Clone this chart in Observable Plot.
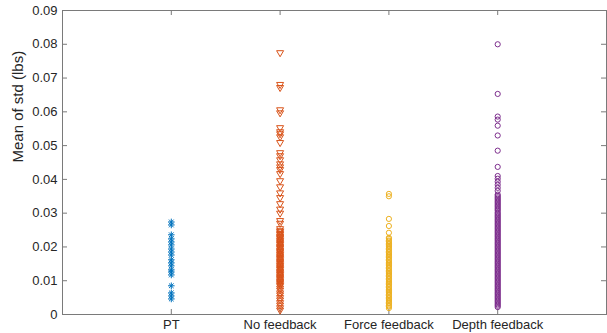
<!DOCTYPE html>
<html>
<head>
<meta charset="utf-8">
<script src="https://cdn.jsdelivr.net/npm/d3@7"></script>
<script src="https://cdn.jsdelivr.net/npm/@observablehq/plot@0.6"></script>
<style>
  body { margin: 0; background: #fff; }
  #chart svg { font-family: "Liberation Sans", Arial, Helvetica, sans-serif; }
  #chart svg g[aria-label="y-axis label"] text { font-size: 15px; }
</style>
</head>
<body>
<div id="chart"></div>
<script>
const categories = ["PT", "No feedback", "Force feedback", "Depth feedback"];
const yTicks = [0, 0.01, 0.02, 0.03, 0.04, 0.05, 0.06, 0.07, 0.08, 0.09];

const ptValues = [0.0274, 0.0265, 0.0236, 0.0224, 0.0215, 0.0206, 0.0194, 0.0185, 0.0176,
  0.0162, 0.0153, 0.0144, 0.0132, 0.0126, 0.0117, 0.0085, 0.0064, 0.0055, 0.0046];

const noFeedbackValues = [0.0775, 0.0681, 0.0672, 0.0606, 0.0597, 0.0553, 0.0541, 0.0535, 0.0526,
  0.0509, 0.0479, 0.0470, 0.0458, 0.0446, 0.0437, 0.0429, 0.0417, 0.0396, 0.0378, 0.0360,
  0.0346, 0.0328, 0.0312, 0.0300, 0.0278, 0.0270, 0.0254,
  0.0248, 0.0245, 0.0240, 0.0237, 0.0232, 0.0229, 0.0226, 0.0221, 0.0218, 0.0214, 0.0210,
  0.0207, 0.0202, 0.0199, 0.0196, 0.0191, 0.0188, 0.0185, 0.0180, 0.0177, 0.0173, 0.0169,
  0.0166, 0.0162, 0.0158, 0.0155, 0.0151, 0.0147, 0.0144, 0.0140, 0.0136, 0.0133, 0.0128,
  0.0125, 0.0121, 0.0118, 0.0114, 0.0110, 0.0107, 0.0103, 0.0099, 0.0096, 0.0092, 0.0088,
  0.0085, 0.0078, 0.0072, 0.0064, 0.0058, 0.0050, 0.0043, 0.0035, 0.0028, 0.0020, 0.0013];

const forceFeedbackValues = [0.0357, 0.0350, 0.0283, 0.0262, 0.0242,
  0.0227, 0.0224, 0.0219, 0.0216, 0.0211, 0.0208, 0.0203, 0.0200, 0.0195, 0.0192, 0.0187,
  0.0184, 0.0179, 0.0176, 0.0171, 0.0168, 0.0163, 0.0160, 0.0155, 0.0152, 0.0147, 0.0144,
  0.0139, 0.0136, 0.0131, 0.0128, 0.0123, 0.0120, 0.0115, 0.0112, 0.0107, 0.0104, 0.0099,
  0.0096, 0.0091, 0.0088, 0.0083, 0.0080, 0.0075, 0.0072, 0.0067, 0.0064, 0.0059, 0.0056,
  0.0051, 0.0048, 0.0043, 0.0040, 0.0035, 0.0032, 0.0027, 0.0024, 0.0019];

const depthFeedbackValues = [0.0800, 0.0653, 0.0586, 0.0577, 0.0559, 0.0530, 0.0485, 0.0437,
  0.0410, 0.0402, 0.0393, 0.0384, 0.0375, 0.0366,
  0.0355, 0.0351, 0.0347, 0.0343, 0.0339, 0.0335, 0.0331, 0.0327, 0.0323, 0.0319, 0.0315,
  0.0311, 0.0307, 0.0302, 0.0298, 0.0294, 0.0290, 0.0286, 0.0282, 0.0278, 0.0274, 0.0270,
  0.0266, 0.0262, 0.0258, 0.0254, 0.0250, 0.0246, 0.0242, 0.0238, 0.0234, 0.0230, 0.0226,
  0.0222, 0.0218, 0.0214, 0.0210, 0.0206, 0.0202, 0.0198, 0.0194, 0.0190, 0.0186, 0.0182,
  0.0178, 0.0174, 0.0170, 0.0166, 0.0162, 0.0158, 0.0154, 0.0150, 0.0146, 0.0142, 0.0138,
  0.0134, 0.0130, 0.0126, 0.0122, 0.0118, 0.0114, 0.0110, 0.0106, 0.0102, 0.0098, 0.0094,
  0.0090, 0.0086, 0.0082, 0.0078, 0.0074, 0.0070, 0.0066, 0.0062, 0.0058, 0.0054, 0.0050,
  0.0046, 0.0042, 0.0038, 0.0034, 0.0030, 0.0026, 0.0022];

const colors = ["#0072BD", "#D95319", "#EDB120", "#7E2F8E"];

const asterisk = {
  draw(ctx, size) {
    const r = Math.sqrt(size / Math.PI);
    const d = r * Math.SQRT1_2;
    ctx.moveTo(-r, 0); ctx.lineTo(r, 0);
    ctx.moveTo(0, -r); ctx.lineTo(0, r);
    ctx.moveTo(-d, -d); ctx.lineTo(d, d);
    ctx.moveTo(-d, d); ctx.lineTo(d, -d);
  }
};

const toRows = (vals, i) => vals.map(v => ({x: i + 1, y: v}));
const ptRows = toRows(ptValues, 0);
const nfRows = toRows(noFeedbackValues, 1);
const ffRows = toRows(forceFeedbackValues, 2);
const dfRows = toRows(depthFeedbackValues, 3);

const W = 607, H = 333, mt = 10, mb = 19, ml = 62, mr = 1;
const innerH = H - mt - mb, innerW = W - ml - mr;
const tickLen = 5;
const axisColor = "#7a7a7a";
const textColor = "#262626";
const xTicks = [1, 2, 3, 4];

const chart = Plot.plot({
  width: W, height: H,
  marginTop: mt, marginBottom: mb, marginLeft: ml, marginRight: mr,
  style: {fontSize: "13px", color: textColor, background: "#fff"},
  x: {domain: [0, 5]},
  y: {domain: [0, 0.09]},
  marks: [
    Plot.frame({stroke: axisColor}),
    // inward ticks
    Plot.ruleX(xTicks, {stroke: axisColor, insetTop: innerH - tickLen}),
    Plot.ruleX(xTicks, {stroke: axisColor, insetBottom: innerH - tickLen}),
    Plot.ruleY(yTicks, {stroke: axisColor, insetRight: innerW - tickLen}),
    Plot.ruleY(yTicks, {stroke: axisColor, insetLeft: innerW - tickLen}),
    Plot.axisX({ticks: xTicks, tickSize: 0, tickPadding: 5, tickFormat: d => categories[d - 1], label: null, fill: textColor}),
    Plot.axisY({ticks: yTicks, tickSize: 0, tickPadding: 5, tickFormat: d => d === 0 ? "0" : d.toFixed(2),
      label: null, fill: textColor}),
    Plot.text(["Mean of std (lbs)"], {frameAnchor: "left", dx: -44, rotate: -90, fontSize: 15, fill: textColor, ariaLabel: "y-axis label"}),
    Plot.dot(ptRows, {x: "x", y: "y", symbol: asterisk, r: 3.3, stroke: colors[0], strokeWidth: 1, fill: "none"}),
    Plot.dot(nfRows, {x: "x", y: "y", symbol: "triangle", r: 2.6, rotate: 180, stroke: colors[1], strokeWidth: 1, fill: "none"}),
    Plot.dot(ffRows, {x: "x", y: "y", symbol: "circle", r: 2.6, stroke: colors[2], strokeWidth: 1, fill: "none"}),
    Plot.dot(dfRows, {x: "x", y: "y", symbol: "circle", r: 2.6, stroke: colors[3], strokeWidth: 1, fill: "none"})
  ]
});
document.getElementById("chart").appendChild(chart);
</script>
</body>
</html>
